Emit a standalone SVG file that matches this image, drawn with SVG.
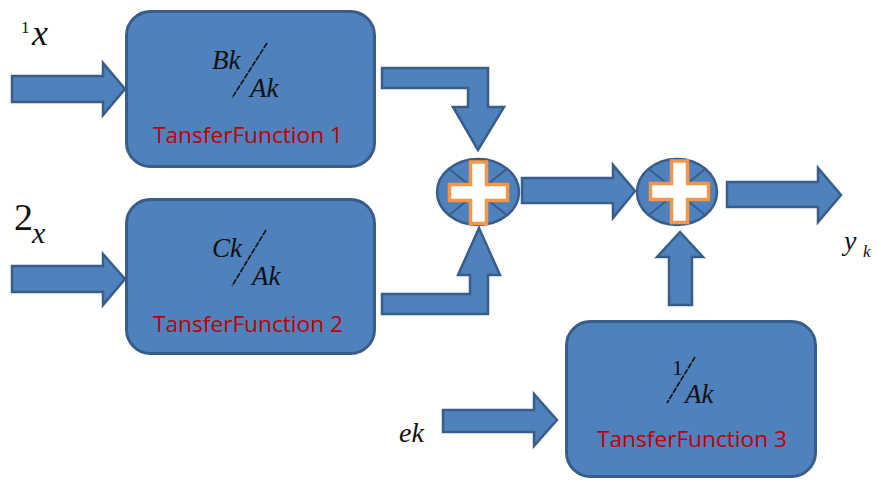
<svg xmlns="http://www.w3.org/2000/svg" width="877" height="481" viewBox="0 0 877 481">
<style>
.box{fill:#4f81bd;stroke:#385d8a;stroke-width:3}
.arr{fill:#4f81bd;stroke:#385d8a;stroke-width:2.5;stroke-linejoin:miter}
.sum{fill:#4f81bd;stroke:#385d8a;stroke-width:2.5}
.xl{stroke:#385d8a;stroke-width:2}
.plus{fill:#ffffff;stroke:#f79646;stroke-width:3.5}
.tf{font-family:"Open Sans","Liberation Sans",sans-serif;font-size:21px;fill:#c00000}
.m{font-family:"Liberation Serif","DejaVu Serif",serif;font-style:italic;fill:#111}
.n{font-family:"Liberation Serif","DejaVu Serif",serif;fill:#111}
.sl{stroke:#111;stroke-width:1.6;stroke-dasharray:6 1.2}
</style>
<defs>
<polygon id="plusShape" points="-8,-30.5 8,-30.5 8,-8 29,-8 29,8 8,8 8,31 -8,31 -8,8 -29,8 -29,-8 -8,-8"/>
</defs>

<g id="connectors">
<polygon class="arr" points="12,76 103,76 103,63 125,89 103,115 103,102 12,102"/>
<polygon class="arr" points="12,266 103,266 103,254 125,279 103,305 103,292 12,292"/>
<polygon class="arr" points="443,410 534,410 534,394 557,420 534,446 534,432 443,432"/>
<polygon class="arr" points="382,68 488,68 488,107 504,107 478,150 453,107 468,107 468,88 382,88"/>
<polygon class="arr" points="382,314 382,294 470,294 470,275 458,275 479,228 500,275 488,275 488,314"/>
<polygon class="arr" points="522,178 613,178 613,165 635,191 613,218 613,203 522,203"/>
<polygon class="arr" points="727,182 818,182 818,168 841,195 818,222 818,207 727,207"/>
<polygon class="arr" points="669,305 669,257 657,257 680,232 703,257 692,257 692,305"/>
</g>

<g id="tf1">
<rect class="box" x="126.5" y="11.5" width="248" height="155" rx="24"/>
<text class="m" x="212" y="69" font-size="27">Bk</text>
<line class="sl" x1="267" y1="43" x2="232" y2="98"/>
<text class="m" x="250" y="97" font-size="27">Ak</text>
<text class="tf" x="153" y="143" textLength="190" lengthAdjust="spacingAndGlyphs">TansferFunction 1</text>
</g>

<g id="tf2">
<rect class="box" x="126.5" y="199.5" width="248" height="154" rx="24"/>
<text class="m" x="212" y="257" font-size="27">Ck</text>
<line class="sl" x1="266" y1="230" x2="232" y2="286"/>
<text class="m" x="252" y="285" font-size="27">Ak</text>
<text class="tf" x="153" y="332" textLength="190" lengthAdjust="spacingAndGlyphs">TansferFunction 2</text>
</g>

<g id="tf3">
<rect class="box" x="566.5" y="321.5" width="249" height="155" rx="24"/>
<text class="n" x="672" y="375" font-size="22">1</text>
<line class="sl" x1="695" y1="357" x2="667" y2="403"/>
<text class="m" x="685" y="403" font-size="27">Ak</text>
<text class="tf" x="597" y="447" textLength="190" lengthAdjust="spacingAndGlyphs">TansferFunction 3</text>
</g>

<g id="sum1">
<ellipse class="sum" cx="478" cy="192" rx="41" ry="33"/>
<line class="xl" x1="449" y1="168.7" x2="507" y2="215.3"/>
<line class="xl" x1="507" y1="168.7" x2="449" y2="215.3"/>
<use href="#plusShape" class="plus" transform="translate(478.5,192.5)"/>
</g>

<g id="sum2">
<ellipse class="sum" cx="677" cy="192" rx="40" ry="33"/>
<line class="xl" x1="648.7" y1="168.7" x2="705.3" y2="215.3"/>
<line class="xl" x1="705.3" y1="168.7" x2="648.7" y2="215.3"/>
<use href="#plusShape" class="plus" transform="translate(679.5,191.5)"/>
</g>

<g id="label-x1">
<text class="n" x="21" y="33" font-size="17">1</text>
<text class="m" x="32" y="45" font-size="36">x</text>
</g>
<g id="label-x2">
<text class="n" x="14" y="230" font-size="38">2</text>
<text class="m" x="32" y="243" font-size="30">x</text>
</g>
<g id="label-yk">
<text class="m" x="844" y="250" font-size="28">y</text>
<text class="m" x="863" y="257" font-size="17">k</text>
</g>
<g id="label-ek">
<text class="m" x="399" y="442" font-size="28">ek</text>
</g>
</svg>
